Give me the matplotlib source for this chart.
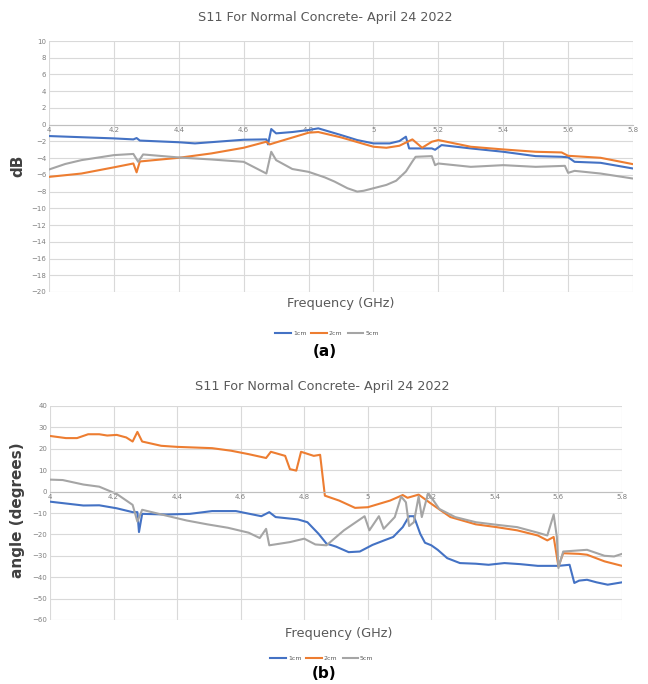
import matplotlib
matplotlib.use("Agg")
from matplotlib import pyplot as plt

# --- (a) magnitude, dB ---
f1_db = [4.0, 4.2, 4.26, 4.27, 4.28, 4.4, 4.45, 4.6, 4.67, 4.675, 4.685, 4.7, 4.75, 4.8, 4.83,
         4.9, 4.95, 5.0, 5.05, 5.08, 5.1, 5.11, 5.15, 5.18, 5.19, 5.21, 5.3, 5.4, 5.5, 5.58,
         5.6, 5.62, 5.7, 5.8]
cm1_db = [-1.36, -1.64, -1.76, -1.6, -1.9, -2.1, -2.24, -1.8, -1.76, -2.36, -0.52, -1.04, -0.88,
          -0.64, -0.44, -1.24, -1.84, -2.24, -2.24, -1.96, -1.44, -2.84, -2.84, -2.84, -3.0,
          -2.44, -2.84, -3.24, -3.76, -3.84, -3.9, -4.44, -4.56, -5.24]

f2_db = [4.0, 4.1, 4.2, 4.26, 4.27, 4.28, 4.4, 4.5, 4.6, 4.67, 4.68, 4.7, 4.8, 4.83, 4.9, 5.0,
         5.04, 5.08, 5.12, 5.15, 5.18, 5.2, 5.3, 5.4, 5.5, 5.58, 5.6, 5.7, 5.8]
cm2_db = [-6.24, -5.84, -5.1, -4.64, -5.7, -4.4, -3.96, -3.44, -2.76, -2.04, -2.36, -2.12,
          -0.96, -0.88, -1.52, -2.64, -2.76, -2.52, -1.76, -2.76, -2.04, -1.84, -2.64, -2.96,
          -3.24, -3.32, -3.72, -3.96, -4.72]

f5_db = [4.0, 4.05, 4.1, 4.2, 4.26, 4.275, 4.29, 4.4, 4.5, 4.6, 4.67, 4.685, 4.7, 4.75, 4.8,
         4.85, 4.88, 4.92, 4.95, 4.97, 5.0, 5.04, 5.07, 5.1, 5.12, 5.13, 5.18, 5.19, 5.2, 5.3,
         5.4, 5.5, 5.59, 5.6, 5.62, 5.7, 5.8]
cm5_db = [-5.36, -4.7, -4.24, -3.64, -3.5, -4.44, -3.56, -3.92, -4.16, -4.44, -5.84, -3.24,
          -4.24, -5.3, -5.64, -6.3, -6.8, -7.6, -8.0, -7.9, -7.6, -7.2, -6.7, -5.6, -4.4,
          -3.84, -3.76, -4.84, -4.64, -5.04, -4.84, -5.04, -4.92, -5.76, -5.52, -5.84, -6.44]

# --- (b) phase, degrees ---
f1_ang = [4.0, 4.105, 4.155, 4.21, 4.26, 4.275, 4.28, 4.29, 4.365, 4.44, 4.51, 4.585, 4.665,
          4.69, 4.71, 4.78, 4.81, 4.845, 4.87, 4.9, 4.94, 4.975, 5.015, 5.055, 5.08, 5.11,
          5.13, 5.145, 5.165, 5.18, 5.2, 5.22, 5.25, 5.29, 5.34, 5.38, 5.43, 5.48, 5.535, 5.6,
          5.635, 5.65, 5.665, 5.69, 5.72, 5.755, 5.8]
cm1_ang = [-4.7, -6.5, -6.4, -7.8, -9.6, -9.6, -18.9, -10.4, -10.7, -10.4, -9.1, -9.1, -11.5,
           -9.6, -11.9, -13.0, -14.3, -19.7, -24.3, -25.7, -28.3, -28.0, -24.9, -22.6, -21.2,
           -16.6, -11.5, -11.5, -19.7, -23.9, -25.1, -27.2, -31.1, -33.4, -33.7, -34.2, -33.4,
           -33.9, -34.7, -34.7, -34.2, -42.7, -41.6, -41.2, -42.4, -43.5, -42.4]

f2_ang = [4.0, 4.05, 4.085, 4.12, 4.155, 4.18, 4.21, 4.24, 4.26, 4.275, 4.29, 4.35, 4.4,
          4.455, 4.51, 4.57, 4.625, 4.68, 4.695, 4.74, 4.755, 4.775, 4.79, 4.83, 4.85, 4.865,
          4.91, 4.96, 5.0, 5.07, 5.11, 5.125, 5.16, 5.2, 5.26, 5.34, 5.405, 5.47, 5.535, 5.565,
          5.585, 5.6, 5.615, 5.665, 5.69, 5.745, 5.8]
cm2_ang = [26.0, 25.0, 25.0, 26.8, 26.8, 26.2, 26.5, 25.3, 23.4, 27.9, 23.4, 21.4, 20.9, 20.6,
           20.3, 19.1, 17.5, 15.7, 18.6, 16.7, 10.5, 9.8, 18.6, 16.7, 17.2, -1.9, -4.2, -7.6,
           -7.3, -4.2, -1.6, -2.9, -1.4, -5.7, -11.9, -15.3, -16.6, -18.1, -20.5, -22.8,
           -21.2, -35.0, -28.8, -29.1, -29.5, -32.6, -34.7]

f5_ang = [4.0, 4.04, 4.105, 4.155, 4.21, 4.26, 4.275, 4.29, 4.365, 4.43, 4.495, 4.56, 4.625,
          4.66, 4.68, 4.69, 4.755, 4.8, 4.835, 4.87, 4.925, 4.99, 5.005, 5.035, 5.05, 5.085,
          5.105, 5.12, 5.13, 5.145, 5.16, 5.17, 5.19, 5.225, 5.275, 5.34, 5.405, 5.47, 5.535,
          5.565, 5.585, 5.595, 5.6, 5.615, 5.69, 5.745, 5.775, 5.8]
cm5_ang = [5.6, 5.4, 3.3, 2.3, -1.1, -6.2, -14.0, -8.5, -11.2, -13.5, -15.3, -16.9, -19.2,
           -21.7, -17.4, -25.1, -23.6, -22.0, -24.7, -25.1, -18.1, -11.5, -18.1, -11.5, -17.4,
           -11.9, -2.3, -5.0, -16.1, -14.3, -2.3, -11.9, -0.6, -8.1, -11.9, -14.3, -15.5,
           -16.6, -19.2, -20.5, -10.7, -21.2, -35.7, -28.0, -27.2, -30.0, -30.3, -29.1]

xticks = [4.0, 4.2, 4.4, 4.6, 4.8, 5.0, 5.2, 5.4, 5.6, 5.8]
xticklabels = ["4", "4.2", "4.4", "4.6", "4.8", "5", "5.2", "5.4", "5.6", "5.8"]
labels = ["1cm", "2cm", "5cm"]
colors = ["#4472C4", "#ED7D31", "#A5A5A5"]
grey_text = "#595959"

fig = plt.figure(figsize=(6.48, 6.84), dpi=100)
W, H = 648, 684


def px_axes(l, t, r, b):
    return fig.add_axes([l / W, 1 - b / H, (r - l) / W, (b - t) / H])


def style(ax, ylim, ystep):
    ax.set_xlim(4.0, 5.8)
    ax.set_ylim(*ylim)
    ax.set_yticks(range(ylim[0], ylim[1] + 1, ystep))
    ax.set_xticks(xticks)
    ax.set_xticklabels(xticklabels)
    ax.grid(True, color="#d9d9d9", linewidth=0.8)
    ax.set_axisbelow(True)
    for s in ["top", "right", "left"]:
        ax.spines[s].set_visible(False)
    ax.spines["bottom"].set_position(("data", 0))
    ax.spines["bottom"].set_color("#bfbfbf")
    ax.tick_params(length=0, labelsize=5, labelcolor="#7f7f7f", pad=2)


# top chart
ax1 = px_axes(49, 41, 633, 292)
ax1.plot(f1_db, cm1_db, color=colors[0], lw=1.5, label=labels[0])
ax1.plot(f2_db, cm2_db, color=colors[1], lw=1.5, label=labels[1])
ax1.plot(f5_db, cm5_db, color=colors[2], lw=1.5, label=labels[2])
style(ax1, (-20, 10), 2)
fig.text(18 / W, 1 - 166 / H, "dB", rotation=90, ha="center", va="center",
         fontsize=11, fontweight="bold", color="#404040")
fig.text(325 / W, 1 - 18 / H, "S11 For Normal Concrete- April 24 2022", ha="center",
         va="center", fontsize=9.2, color=grey_text)
fig.text(341 / W, 1 - 304 / H, "Frequency (GHz)", ha="center", va="center",
         fontsize=9.3, color=grey_text)
ax1.legend(loc="center", bbox_to_anchor=(327 / W, 1 - 333 / H), bbox_transform=fig.transFigure,
           ncol=3, fontsize=4.5, frameon=False, handlelength=2.5, columnspacing=0.8,
           handletextpad=0.3, labelcolor=grey_text)
fig.text(325 / W, 1 - 352 / H, "(a)", ha="center", va="center", fontsize=11,
         fontweight="bold")

# bottom chart
ax2 = px_axes(50, 406, 622, 620)
ax2.plot(f1_ang, cm1_ang, color=colors[0], lw=1.5, label=labels[0])
ax2.plot(f2_ang, cm2_ang, color=colors[1], lw=1.5, label=labels[1])
ax2.plot(f5_ang, cm5_ang, color=colors[2], lw=1.5, label=labels[2])
style(ax2, (-60, 40), 10)
fig.text(18 / W, 1 - 510 / H, "angle (degrees)", rotation=90, ha="center", va="center",
         fontsize=11, fontweight="bold", color="#404040")
fig.text(322 / W, 1 - 386 / H, "S11 For Normal Concrete- April 24 2022", ha="center",
         va="center", fontsize=9.2, color=grey_text)
fig.text(339 / W, 1 - 633 / H, "Frequency (GHz)", ha="center", va="center",
         fontsize=9.3, color=grey_text)
ax2.legend(loc="center", bbox_to_anchor=(322 / W, 1 - 658 / H), bbox_transform=fig.transFigure,
           ncol=3, fontsize=4.5, frameon=False, handlelength=2.5, columnspacing=0.8,
           handletextpad=0.3, labelcolor=grey_text)
fig.text(324 / W, 1 - 674 / H, "(b)", ha="center", va="center", fontsize=11,
         fontweight="bold")

plt.savefig("out.png", dpi=100)
